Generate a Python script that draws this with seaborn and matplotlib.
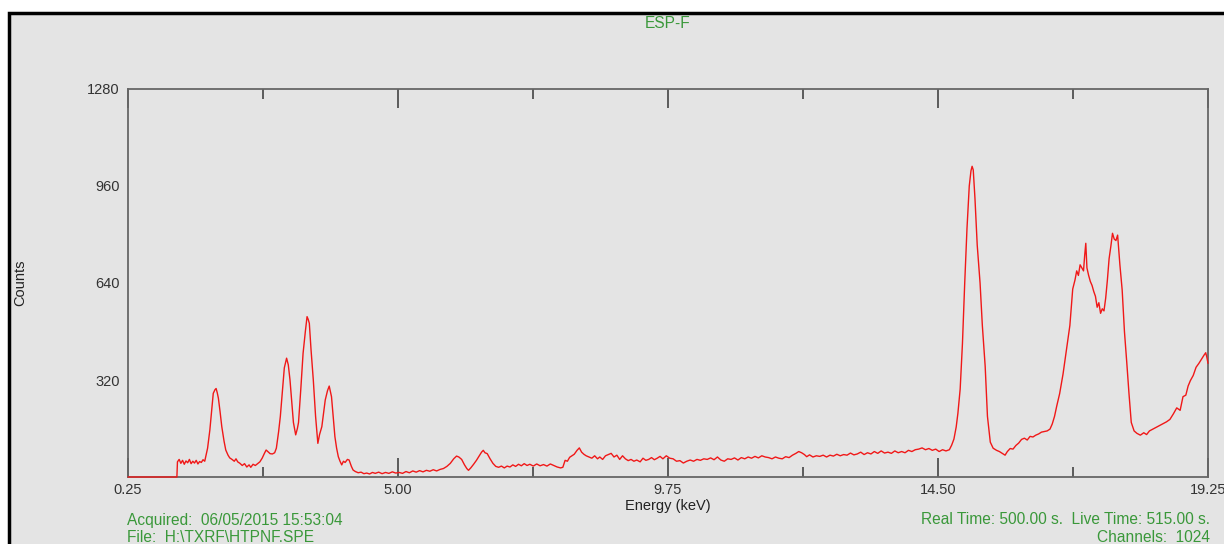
import pandas as pd
import seaborn as sns
import matplotlib.pyplot as plt
from matplotlib.patches import Rectangle
from matplotlib.ticker import FixedLocator, NullLocator

# spectrum (energy in keV, counts)
energy = [
    0.25, 1.11, 1.12, 1.15, 1.18, 1.21, 1.24, 1.27, 1.30, 1.33, 1.36, 1.39, 1.42, 1.45, 1.48, 1.51, 1.54, 1.57, 1.60,
    1.65, 1.69, 1.72, 1.75, 1.78, 1.80, 1.82, 1.84, 1.87, 1.90, 1.94, 1.97, 2.01, 2.04, 2.08, 2.12, 2.15, 2.18, 2.22,
    2.26, 2.30, 2.34, 2.38, 2.41, 2.45, 2.49, 2.53, 2.57, 2.61, 2.65, 2.68, 2.71, 2.75, 2.79, 2.83, 2.86, 2.90, 2.93,
    2.97, 3.00, 3.04, 3.07, 3.10, 3.13, 3.16, 3.20, 3.23, 3.25, 3.29, 3.33, 3.37, 3.40, 3.42, 3.44, 3.47, 3.51, 3.55,
    3.59, 3.62, 3.66, 3.69, 3.72, 3.76, 3.79, 3.83, 3.86, 3.89, 3.92, 3.95, 3.98, 4.01, 4.04, 4.07, 4.11, 4.14, 4.18,
    4.21, 4.25, 4.30, 4.35, 4.40, 4.45, 4.50, 4.55, 4.60, 4.66, 4.72, 4.78, 4.84, 4.90, 4.96, 5.02, 5.08, 5.14, 5.20,
    5.26, 5.32, 5.38, 5.44, 5.50, 5.56, 5.62, 5.68, 5.74, 5.80, 5.86, 5.92, 5.98, 6.03, 6.07, 6.12, 6.17, 6.21, 6.24,
    6.28, 6.33, 6.38, 6.43, 6.47, 6.50, 6.53, 6.57, 6.62, 6.67, 6.72, 6.77, 6.82, 6.87, 6.92, 6.97, 7.02, 7.07, 7.12,
    7.17, 7.22, 7.27, 7.32, 7.38, 7.44, 7.50, 7.56, 7.62, 7.68, 7.74, 7.80, 7.86, 7.90, 7.94, 7.98, 8.02, 8.06, 8.10,
    8.15, 8.19, 8.23, 8.27, 8.31, 8.36, 8.41, 8.46, 8.51, 8.55, 8.60, 8.65, 8.70, 8.75, 8.80, 8.85, 8.90, 8.95, 9.00,
    9.05, 9.10, 9.15, 9.20, 9.26, 9.31, 9.36, 9.41, 9.46, 9.51, 9.56, 9.61, 9.66, 9.72, 9.78, 9.84, 9.90, 9.96, 10.02,
    10.08, 10.14, 10.20, 10.26, 10.32, 10.38, 10.44, 10.50, 10.56, 10.62, 10.68, 10.74, 10.80, 10.86, 10.92, 10.98,
    11.04, 11.10, 11.16, 11.22, 11.28, 11.34, 11.40, 11.46, 11.52, 11.58, 11.64, 11.70, 11.76, 11.82, 11.88, 11.94,
    12.00, 12.05, 12.10, 12.15, 12.19, 12.24, 12.30, 12.36, 12.42, 12.48, 12.54, 12.60, 12.66, 12.72, 12.78, 12.84,
    12.90, 12.96, 13.02, 13.08, 13.14, 13.20, 13.26, 13.32, 13.38, 13.44, 13.50, 13.56, 13.62, 13.68, 13.74, 13.80,
    13.86, 13.92, 13.98, 14.04, 14.10, 14.16, 14.22, 14.28, 14.34, 14.40, 14.46, 14.52, 14.58, 14.64, 14.70, 14.74,
    14.78, 14.82, 14.85, 14.89, 14.93, 14.97, 15.01, 15.05, 15.08, 15.10, 15.12, 15.15, 15.19, 15.24, 15.28, 15.33,
    15.37, 15.42, 15.47, 15.53, 15.58, 15.63, 15.68, 15.72, 15.77, 15.82, 15.87, 15.92, 15.97, 16.02, 16.07, 16.12,
    16.17, 16.22, 16.27, 16.32, 16.37, 16.42, 16.47, 16.51, 16.55, 16.59, 16.64, 16.70, 16.76, 16.82, 16.87, 16.91,
    16.94, 16.97, 17.00, 17.03, 17.06, 17.08, 17.10, 17.12, 17.15, 17.18, 17.21, 17.24, 17.27, 17.30, 17.33, 17.36,
    17.39, 17.42, 17.45, 17.48, 17.51, 17.54, 17.57, 17.60, 17.63, 17.66, 17.70, 17.74, 17.78, 17.82, 17.86, 17.90,
    17.95, 18.00, 18.06, 18.12, 18.17, 18.22, 18.28, 18.34, 18.40, 18.46, 18.52, 18.58, 18.64, 18.70, 18.76, 18.81,
    18.86, 18.90, 18.94, 18.99, 19.04, 19.09, 19.14, 19.18, 19.21, 19.23, 19.25,
]
counts = [
    0, 0, 50, 58, 45, 55, 42, 53, 47, 58, 44, 52, 46, 55, 43, 51, 48, 57, 52,
    95, 155, 215, 276, 288, 292, 278, 260, 215, 166, 118, 89, 72, 63, 58, 52, 60, 50, 45,
    38, 44, 33, 40, 32, 42, 38, 44, 50, 62, 78, 89, 84, 77, 76, 80, 95, 150, 200,
    290, 360, 392, 370, 320, 250, 180, 139, 160, 180, 290, 408, 480, 529, 520, 507, 420, 320, 200,
    111, 140, 166, 210, 254, 285, 300, 265, 200, 133, 95, 67, 52, 40, 52, 48, 58, 56, 35,
    23, 18, 14, 16, 11, 13, 10, 15, 12, 16, 11, 15, 12, 17, 13, 15, 12, 18, 14,
    20, 16, 21, 17, 22, 19, 24, 20, 25, 28, 35, 45, 60, 69, 66, 58, 40, 28, 22,
    30, 42, 55, 70, 82, 88, 80, 77, 60, 45, 35, 32, 36, 30, 36, 33, 40, 35, 42,
    37, 44, 38, 42, 36, 43, 37, 41, 36, 43, 38, 33, 30, 32, 55, 52, 65, 70, 75,
    88, 96, 82, 75, 70, 66, 62, 70, 60, 66, 58, 70, 74, 78, 66, 72, 58, 70, 60,
    54, 58, 52, 56, 50, 62, 55, 58, 64, 57, 62, 68, 60, 70, 62, 60, 52, 54, 46,
    52, 56, 52, 58, 55, 60, 58, 63, 57, 66, 56, 52, 60, 58, 63, 56,
    64, 60, 66, 62, 68, 63, 70, 66, 64, 60, 66, 62, 60, 67, 64, 72,
    78, 84, 80, 74, 67, 73, 66, 70, 68, 72, 66, 72, 69, 75, 70, 74,
    72, 79, 73, 76, 82, 74, 80, 76, 84, 78, 86, 79, 82, 78, 86, 80,
    84, 80, 88, 84, 90, 92, 96, 90, 94, 88, 92, 84, 90, 86, 90, 105,
    125, 165, 210, 290, 440, 640, 820, 960, 1010, 1025, 1013, 920, 765, 640, 500, 365,
    200, 115, 95, 88, 84, 78, 72, 84, 94, 92, 104, 112, 124, 128, 122, 134,
    132, 138, 142, 148, 150, 152, 158, 175, 200, 235, 275, 340, 420, 500, 620, 650,
    680, 665, 700, 690, 680, 730, 771, 690, 665, 645, 632, 612, 596, 560, 575, 540,
    555, 548, 590, 650, 720, 760, 804, 785, 780, 798, 700, 617, 480, 380, 275, 180,
    152, 144, 138, 146, 140, 152, 158, 164, 170, 176, 182, 190, 208, 228, 220, 265,
    270, 300, 318, 335, 362, 375, 390, 402, 410, 395, 375,
]

x_major = [0.25, 5.00, 9.75, 14.50, 19.25]
x_minor = [2.625, 7.375, 12.125, 16.875]
y_ticks = [320, 640, 960, 1280]

bg = "#e4e4e4"
green = "#3a983a"
text_col = "#333333"

sns.set_style("ticks")
plt.rcParams["font.family"] = ["Liberation Sans", "DejaVu Sans"]

df = pd.DataFrame({"energy": energy, "counts": counts})

fig = plt.figure(figsize=(12.24, 5.44), dpi=100)
fig.patch.set_facecolor("white")
# grey panel with the black frame on top and left
fig.patches.append(Rectangle((9 / 1224, -0.1), 1.2, 1.1 - 13 / 544, transform=fig.transFigure,
                             facecolor=bg, edgecolor="black", linewidth=2.5, zorder=-5))

ax = fig.add_axes([128 / 1224, 1 - 477 / 544, 1080 / 1224, 388 / 544])
ax.set_facecolor(bg)
ax.set_zorder(2)

sns.lineplot(data=df, x="energy", y="counts", ax=ax, color="#f01818", linewidth=1.0,
             estimator=None, sort=False, zorder=3, clip_on=False)

ax.set_xlim(0.25, 19.25)
ax.set_ylim(0, 1280)

ax.xaxis.set_major_locator(FixedLocator(x_major))
ax.xaxis.set_minor_locator(FixedLocator(x_minor))
ax.set_xticklabels([f"{v:.2f}" for v in x_major])
ax.yaxis.set_major_locator(FixedLocator(y_ticks))
ax.yaxis.set_minor_locator(NullLocator())
ax.set_yticklabels([str(v) for v in y_ticks])

ax.tick_params(axis="x", which="major", direction="in", length=14, width=1.2, color="#444444",
               top=True, labelsize=10.5, labelcolor=text_col, pad=4)
ax.tick_params(axis="x", which="minor", direction="in", length=7, width=1.2, color="#444444", top=True)
ax.tick_params(axis="y", which="major", length=0, labelsize=10.5, labelcolor=text_col, pad=6)

for s in ax.spines.values():
    s.set_color("#666666")
    s.set_linewidth(1.3)

ax.set_xlabel("Energy (keV)", fontsize=10.5, color="#222222", labelpad=2)
ax.set_ylabel("Counts", fontsize=10.5, color="#222222")
ax.yaxis.set_label_coords(-0.093, 0.5)

fs = 11.2
fig.text(668 / 1224, 1 - 24 / 544, "ESP-F", color=green, fontsize=fs, ha="center", va="center")
fig.text(127 / 1224, 1 - 520 / 544, "Acquired:  06/05/2015 15:53:04", color=green, fontsize=fs, va="center")
fig.text(127 / 1224, 1 - 537 / 544, "File:  H:\\TXRF\\HTPNF.SPE", color=green, fontsize=fs, va="center")
fig.text(1210 / 1224, 1 - 520 / 544, "Real Time: 500.00 s.  Live Time: 515.00 s.", color=green,
         fontsize=fs, ha="right", va="center")
fig.text(1210 / 1224, 1 - 537 / 544, "Channels:  1024", color=green, fontsize=fs, ha="right", va="center")

fig.savefig("out.png", dpi=100, facecolor=fig.get_facecolor())
